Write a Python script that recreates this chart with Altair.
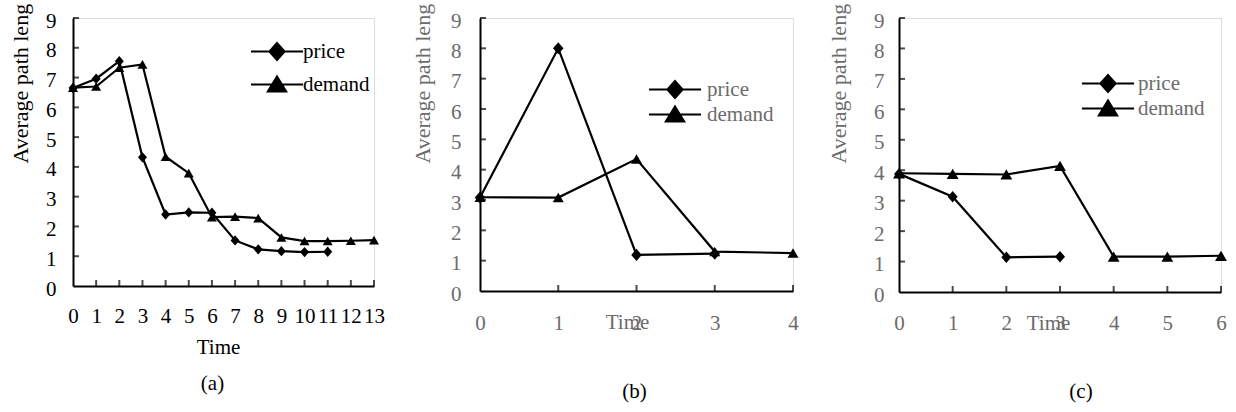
import altair as alt
import pandas as pd

FONT = "Liberation Serif"
GRAY = "#6b6b6b"

# ---------------- data ----------------
series_names = ["price", "demand"]

a_time_price = list(range(12))
a_price = [6.65, 6.96, 7.55, 4.32, 2.40, 2.47, 2.46, 1.53, 1.23, 1.17, 1.14, 1.15]
a_time_demand = list(range(14))
a_demand = [6.66, 6.70, 7.33, 7.44, 4.34, 3.79, 2.31, 2.33, 2.28, 1.63, 1.51, 1.51, 1.52, 1.54]

b_time_price = list(range(4))
b_price = [3.08, 8.00, 1.19, 1.23]
b_time_demand = list(range(5))
b_demand = [3.09, 3.08, 4.35, 1.30, 1.25]

c_time_price = list(range(4))
c_price = [3.88, 3.13, 1.14, 1.16]
c_time_demand = list(range(7))
c_demand = [3.90, 3.88, 3.86, 4.14, 1.16, 1.16, 1.19]

y_ticks = list(range(0, 10))
a_x_ticks = list(range(0, 14))
b_x_ticks = list(range(0, 5))
c_x_ticks = list(range(0, 7))

y_title = "Average path leng"
x_title = "Time"
captions = ["(a)", "(b)", "(c)"]

# marker / legend symbol paths (legend: filled bar segment + marker)
DIAMOND = "M0,-1.15L1,0L0,1.15L-1,0Z"
LEG_DIAMOND = ("M-2.6,-0.11L2.6,-0.11L2.6,0.11L-2.6,0.11Z"
               "M-0.9,0L0,-1.0L0.9,0L0,1.0Z")
LEG_TRI = ("M-2.6,-0.11L2.6,-0.11L2.6,0.11L-2.6,0.11Z"
           "M-1.1,0.8L0,-1.0L1.1,0.8Z")


def panel(tp, p, td, d, xticks, width, height, color, lx, ly, rowpad, loff,
          ylabpad, xlabpad, ytx, xtx, xty, dsize, tsize, cap, capdx, capoff):
    df = pd.DataFrame({
        "t": tp + td,
        "v": p + d,
        "series": ["price"] * len(tp) + ["demand"] * len(td),
    })
    xmax = xticks[-1]
    xtick_df = pd.DataFrame({"t": xticks[1:], "v": [0] * (len(xticks) - 1)})
    ytick_df = pd.DataFrame({"t": [0] * (len(y_ticks) - 1), "v": y_ticks[1:]})

    x_enc = alt.X("t:Q",
                  scale=alt.Scale(domain=[0, xmax], nice=False, zero=True),
                  axis=alt.Axis(values=xticks, format="d", tickSize=0, grid=False,
                                domainColor="black", domainWidth=2,
                                labelFont=FONT, labelFontSize=21, labelColor=color,
                                labelPadding=xlabpad, labelBaseline="middle",
                                labelFlush=False, labelOverlap=False,
                                title=x_title, titleFont=FONT, titleFontSize=21,
                                titleFontWeight="normal", titleColor=color,
                                titleX=xtx, titleY=xty, titleAlign="center",
                                titleBaseline="middle"))
    y_enc = alt.Y("v:Q",
                  scale=alt.Scale(domain=[0, 9], nice=False, zero=True),
                  axis=alt.Axis(values=y_ticks, format="d", tickSize=0, grid=False,
                                domainColor="black", domainWidth=2,
                                labelFont=FONT, labelFontSize=21, labelColor=color,
                                labelPadding=ylabpad, labelOffset=3,
                                labelFlush=False, labelOverlap=False,
                                title=y_title, titleFont=FONT, titleFontSize=22,
                                titleFontWeight="normal", titleColor=color,
                                titleAngle=270, titleX=ytx, titleY=163 - 18,
                                titleAlign="left", titleBaseline="middle"))

    base = alt.Chart(df)
    lines = base.mark_line(color="black", strokeWidth=2.2).encode(
        x=x_enc, y=y_enc, detail="series:N")
    pts_p = base.transform_filter(alt.datum.series == "price").mark_point(
        shape=DIAMOND, size=dsize, filled=True, color="black", opacity=1
    ).encode(x=x_enc, y=y_enc)
    pts_d = base.transform_filter(alt.datum.series == "demand").mark_point(
        shape="triangle-up", size=tsize, filled=True, color="black", opacity=1
    ).encode(x=x_enc, y=y_enc)
    leg = base.mark_point(filled=True, color="black", opacity=0).encode(
        x=x_enc, y=y_enc,
        shape=alt.Shape("series:N",
                        scale=alt.Scale(domain=series_names, range=[LEG_DIAMOND, LEG_TRI]),
                        legend=alt.Legend(title=None, orient="none", legendX=lx, legendY=ly,
                                          symbolSize=400, symbolFillColor="black",
                                          symbolStrokeWidth=0,
                                          symbolOpacity=1, labelFont=FONT, labelFontSize=21,
                                          labelColor=color, rowPadding=rowpad,
                                          labelOffset=loff, padding=0)))
    xt = alt.Chart(xtick_df).mark_tick(orient="vertical", size=6, yOffset=-3,
                                       thickness=2, color="black").encode(x=x_enc, y=y_enc)
    yt = alt.Chart(ytick_df).mark_tick(orient="horizontal", size=6, xOffset=3,
                                       thickness=2, color="black").encode(x=x_enc, y=y_enc)
    return alt.layer(lines, pts_p, pts_d, leg, xt, yt).properties(
        width=width, height=height,
        title=alt.TitleParams(text=cap, orient="bottom", font=FONT, fontSize=21,
                              fontWeight="normal", color="black", dx=capdx,
                              offset=capoff, anchor="middle"))


pa = panel(a_time_price, a_price, a_time_demand, a_demand, a_x_ticks, 301, 268, "black",
           193.5, 23, 11, 15.5, 17, 30, -53, 145, 61, 81, 100, captions[0], -11, 16)
pb = panel(b_time_price, b_price, b_time_demand, b_demand, b_x_ticks, 313, 273, GRAY,
           184.5, 61, 3, 21.5, 19, 32, -58, 147, 31, 110, 121, captions[1], -2, 48)
pc = panel(c_time_price, c_price, c_time_demand, c_demand, c_x_ticks, 322, 274, GRAY,
           198.5, 55, 3, 19.5, 15, 31, -61, 149, 31, 100, 140, captions[2], 21, 48)

chart = alt.hconcat(pa, pb, pc, spacing=106, bounds="flush").resolve_scale(
    shape="independent"
).resolve_legend(shape="independent").properties(
    padding={"left": 8, "top": 2, "right": 0, "bottom": 0}
).configure_view(stroke=None).configure(background="white")

chart.save("out.html", embed_options={"renderer": "svg", "actions": False})
